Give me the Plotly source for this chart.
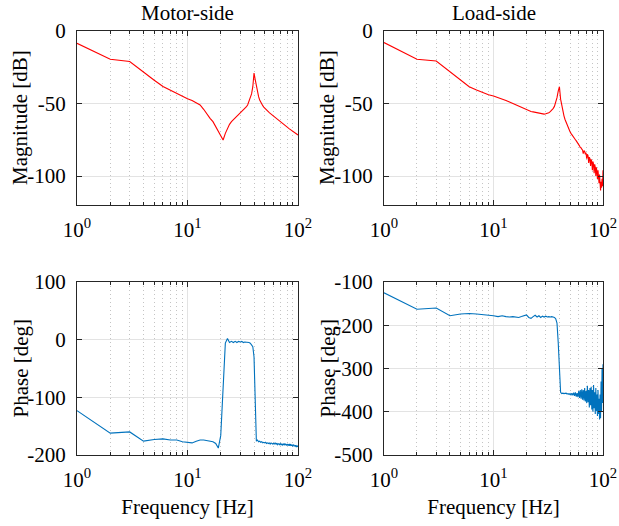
import plotly.graph_objects as go

# Frequency response measured at integer frequencies (Hz)
freq_hz = list(range(1, 101))

motor_mag_db = [
    -8.5, -19.5, -21.0, -28.5, -34.0, -38.3, -41.0, -43.0, -45.0, -46.8,
    -48.0, -49.4, -51.0, -54.0, -57.5, -60.2, -62.5, -66.0, -69.4, -72.9,
    -75.2, -70.6, -67.1, -64.4, -62.5, -61.2, -60.0, -59.0, -57.9, -56.8,
    -55.9, -54.7, -53.6, -52.4, -51.0, -48.7, -46.4, -43.4, -38.4, -29.0,
    -33.5, -38.4, -42.5, -45.3, -47.6, -49.3, -50.5, -51.5, -52.5, -53.3,
    -53.9, -54.5, -55.1, -55.7, -56.3, -56.8, -57.3, -57.8, -58.2, -58.6,
    -59.1, -59.6, -60.0, -60.5, -60.9, -61.3, -61.8, -62.2, -62.6, -63.0,
    -63.3, -63.7, -64.0, -64.4, -64.7, -65.0, -65.4, -65.7, -66.1, -66.4,
    -66.7, -67.0, -67.3, -67.6, -67.9, -68.1, -68.4, -68.7, -69.0, -69.2,
    -69.5, -69.8, -70.0, -70.3, -70.5, -70.8, -71.0, -71.3, -71.5, -71.7,
]

load_mag_db = [
    -8.0, -19.5, -20.7, -28.0, -33.7, -38.4, -40.7, -42.5, -43.9, -44.8,
    -45.8, -46.8, -48.0, -49.0, -50.0, -51.0, -52.0, -53.0, -53.8, -54.5,
    -55.0, -55.5, -55.8, -56.1, -56.4, -56.7, -57.0, -57.2, -57.3, -57.1,
    -56.8, -56.3, -55.6, -54.7, -53.5, -52.0, -49.5, -46.0, -41.5, -38.4,
    -47.0, -52.0, -55.5, -58.5, -61.0, -63.0, -65.0, -66.7, -68.3, -69.5,
    -70.6, -71.7, -72.6, -73.5, -74.3, -75.0, -75.8, -76.5, -77.5, -78.5,
    -79.2, -80.3, -80.5, -81.5, -82.0, -84.5, -82.5, -83.0, -85.0, -84.0,
    -88.0, -85.0, -86.0, -91.0, -87.0, -88.0, -93.0, -88.5, -90.0, -96.0,
    -90.0, -92.0, -98.0, -92.0, -94.0, -100.0, -94.0, -97.0, -102.0, -96.0,
    -99.0, -105.0, -99.0, -103.0, -110.0, -104.0, -108.0, -102.0, -107.0, -96.0,
]

motor_phase_deg = [
    -123, -162, -160, -176, -173, -172, -174, -174, -177, -178,
    -179, -176, -174, -174, -175, -176, -177, -180, -188, -166,
    -75, -6, 2, -5, -3, -5, -3, -5, -3, -4,
    -3, -5, -4, -4, -5, -5, -6, -10, -12, -30,
    -120, -176, -174, -177, -176, -178, -177, -179, -178, -179,
    -178, -180, -179, -180, -179, -181, -179, -180, -181, -180,
    -181, -179, -181, -180, -182, -180, -181, -182, -180, -182,
    -181, -183, -181, -182, -180, -183, -181, -182, -183, -181,
    -183, -182, -184, -181, -183, -182, -184, -182, -183, -185,
    -182, -184, -183, -185, -183, -184, -186, -184, -185, -186,
]

load_phase_deg = [
    -125, -163, -160, -178, -174, -173, -174, -175, -177, -178,
    -180, -178, -180, -181, -180, -181, -182, -180, -178, -176,
    -182, -184, -180, -177, -181, -178, -182, -179, -181, -179,
    -181, -180, -181, -180, -181, -182, -185, -195, -240, -310,
    -355, -358, -357, -358, -358, -357, -359, -358, -360, -358,
    -361, -357, -362, -356, -363, -355, -365, -357, -366, -352,
    -368, -350, -370, -348, -372, -350, -374, -345, -376, -352,
    -380, -340, -378, -350, -390, -345, -385, -342, -395, -350,
    -400, -338, -392, -355, -405, -345, -398, -360, -410, -350,
    -405, -370, -418, -360, -415, -330, -400, -300, -380, -290,
]

freq_tick_vals = [1, 10, 100]
freq_tick_text = ["10<sup>0</sup>", "10<sup>1</sup>", "10<sup>2</sup>"]
freq_minor_vals = [2, 3, 4, 5, 6, 7, 8, 9, 20, 30, 40, 50, 60, 70, 80, 90]

mag_tick_vals = [-100, -50, 0]
mag_tick_text = ["-100", "-50", "0"]
motor_phase_tick_vals = [-200, -100, 0, 100]
motor_phase_tick_text = ["-200", "-100", "0", "100"]
load_phase_tick_vals = [-500, -400, -300, -200, -100]
load_phase_tick_text = ["-500", "-400", "-300", "-200", "-100"]

W, H = 619, 526
FONT = '"Liberation Serif", "Times New Roman", serif'
FRAME = "#262626"
GRID = "#e3e3e3"
RED = "#ff0000"
BLUE = "#0072bd"
TICK_SIZE = 21
LABEL_SIZE = 21


def xdom(left, right):
    return [left / W, right / W]


def ydom(top, bottom):
    return [1 - bottom / H, 1 - top / H]


def xaxis_style(domain, anchor, title):
    return dict(
        type="log", range=[0, 2], domain=domain, anchor=anchor,
        tickmode="array", tickvals=freq_tick_vals, ticktext=freq_tick_text,
        ticks="inside", ticklen=5, tickwidth=1, tickcolor=FRAME,
        showline=True, linecolor=FRAME, linewidth=1, mirror="ticks",
        showgrid=True, gridcolor=GRID, gridwidth=1, zeroline=False,
        minor=dict(tickmode="array", tickvals=freq_minor_vals, ticks="inside",
                   ticklen=3, tickcolor=FRAME, showgrid=True,
                   gridcolor="#c4c4c4", griddash="1px,3px", gridwidth=1),
        tickfont=dict(family=FONT, size=TICK_SIZE, color="black"),
        ticklabelstandoff=6, ticklabeloverflow="allow",
        title=dict(text=title, font=dict(family=FONT, size=LABEL_SIZE, color="black"),
                   standoff=8),
        automargin=False,
    )


def yaxis_style(domain, anchor, rng, vals, text):
    return dict(
        range=rng, domain=domain, anchor=anchor,
        tickmode="array", tickvals=vals, ticktext=text,
        ticks="inside", ticklen=5, tickwidth=1, tickcolor=FRAME,
        showline=True, linecolor=FRAME, linewidth=1, mirror="ticks",
        showgrid=True, gridcolor=GRID, gridwidth=1, zeroline=False,
        tickfont=dict(family=FONT, size=TICK_SIZE, color="black"),
        ticklabelstandoff=6, ticklabeloverflow="allow",
        automargin=False,
    )


def label(text, x_px, y_px, angle=0):
    return dict(text=text, x=x_px / W, y=1 - y_px / H, xref="paper", yref="paper",
                xanchor="center", yanchor="middle", textangle=angle,
                showarrow=False,
                font=dict(family=FONT, size=LABEL_SIZE, color="black"))


fig = go.Figure()
fig.add_trace(go.Scatter(x=freq_hz, y=motor_mag_db, mode="lines",
                         line=dict(color=RED, width=1.1), xaxis="x", yaxis="y",
                         showlegend=False))
fig.add_trace(go.Scatter(x=freq_hz, y=load_mag_db, mode="lines",
                         line=dict(color=RED, width=1.1), xaxis="x2", yaxis="y2",
                         showlegend=False))
fig.add_trace(go.Scatter(x=freq_hz, y=motor_phase_deg, mode="lines",
                         line=dict(color=BLUE, width=1.1), xaxis="x3", yaxis="y3",
                         showlegend=False))
fig.add_trace(go.Scatter(x=freq_hz, y=load_phase_deg, mode="lines",
                         line=dict(color=BLUE, width=1.1), xaxis="x4", yaxis="y4",
                         showlegend=False))

LEFT_PX = (77, 298)
RIGHT_PX = (384, 603)
TOP_PX = (31, 205)
BOTTOM_PX = (282, 455)

left_x = xdom(*LEFT_PX)
right_x = xdom(*RIGHT_PX)
top_y = ydom(*TOP_PX)
bottom_y = ydom(*BOTTOM_PX)

top_mid = sum(TOP_PX) / 2
bottom_mid = sum(BOTTOM_PX) / 2

fig.update_layout(
    width=W, height=H,
    margin=dict(l=0, r=0, t=0, b=0),
    paper_bgcolor="white", plot_bgcolor="white",
    font=dict(family=FONT, color="black"),
    xaxis=xaxis_style(left_x, "y", ""),
    xaxis2=xaxis_style(right_x, "y2", ""),
    xaxis3=xaxis_style(left_x, "y3", "Frequency [Hz]"),
    xaxis4=xaxis_style(right_x, "y4", "Frequency [Hz]"),
    yaxis=yaxis_style(top_y, "x", [-120, 0], mag_tick_vals, mag_tick_text),
    yaxis2=yaxis_style(top_y, "x2", [-120, 0], mag_tick_vals, mag_tick_text),
    yaxis3=yaxis_style(bottom_y, "x3", [-200, 100], motor_phase_tick_vals,
                       motor_phase_tick_text),
    yaxis4=yaxis_style(bottom_y, "x4", [-500, -100], load_phase_tick_vals,
                       load_phase_tick_text),
    annotations=[
        label("Motor-side", sum(LEFT_PX) / 2, 13),
        label("Load-side", sum(RIGHT_PX) / 2, 13),
        label("Magnitude [dB]", 20, top_mid, -90),
        label("Magnitude [dB]", 327, top_mid, -90),
        label("Phase [deg]", 20, bottom_mid, -90),
        label("Phase [deg]", 327, bottom_mid, -90),
    ],
)

fig.write_html("out.html")
